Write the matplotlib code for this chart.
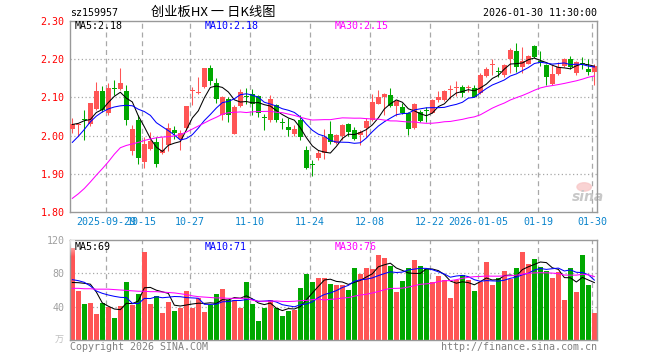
import numpy as np
import matplotlib
matplotlib.use('Agg')
import matplotlib.pyplot as plt
from matplotlib.patches import Ellipse

# ---------------- data ----------------
opens = [2.018, 2.027, 2.042, 2.030, 2.071, 2.117, 2.058, 2.123, 2.121, 2.117,
         1.960, 2.040, 1.930, 1.965, 1.982, 1.953, 1.975, 2.014, 1.992, 2.021,
         2.118, 2.111, 2.128, 2.177, 2.139, 2.054, 2.095, 2.005, 2.077, 2.104,
         2.109, 2.104, 2.047, 2.040, 2.080, 2.033, 2.023, 2.005, 2.040, 1.961,
         1.925, 1.942, 1.954, 2.004, 1.981, 1.998, 2.029, 2.014, 2.001, 2.021,
         2.040, 2.084, 2.102, 2.106, 2.077, 2.074, 2.058, 2.021, 2.062, 2.067,
         2.060, 2.093, 2.093, 2.119, 2.124, 2.128, 2.124, 2.126, 2.111, 2.156,
         2.185, 2.168, 2.159, 2.200, 2.223, 2.179, 2.189, 2.235, 2.195, 2.185,
         2.135, 2.161, 2.182, 2.200, 2.165, 2.189, 2.175, 2.168]
closes = [2.029, 2.031, 2.040, 2.086, 2.117, 2.067, 2.124, 2.121, 2.139, 2.040,
          2.017, 1.940, 1.979, 1.986, 1.925, 1.961, 2.021, 2.007, 2.007, 2.077,
          2.120, 2.114, 2.177, 2.144, 2.095, 2.102, 2.054, 2.074, 2.115, 2.102,
          2.084, 2.058, 2.046, 2.097, 2.042, 2.032, 2.014, 2.017, 1.996, 1.914,
          1.923, 1.954, 1.996, 1.983, 2.001, 2.027, 2.010, 1.992, 2.010, 2.039,
          2.089, 2.102, 2.109, 2.077, 2.091, 2.058, 2.016, 2.082, 2.039, 2.065,
          2.093, 2.102, 2.117, 2.121, 2.126, 2.112, 2.126, 2.102, 2.159, 2.176,
          2.187, 2.166, 2.185, 2.225, 2.181, 2.196, 2.209, 2.207, 2.193, 2.153,
          2.161, 2.181, 2.200, 2.181, 2.193, 2.187, 2.168, 2.182]
highs = [2.045, 2.033, 2.067, 2.086, 2.140, 2.130, 2.137, 2.147, 2.178, 2.132,
         2.027, 2.054, 1.995, 2.009, 1.996, 1.995, 2.032, 2.025, 2.014, 2.077,
         2.128, 2.154, 2.178, 2.185, 2.150, 2.104, 2.102, 2.080, 2.121, 2.124,
         2.121, 2.106, 2.056, 2.106, 2.082, 2.045, 2.045, 2.027, 2.054, 1.972,
         1.935, 1.961, 2.018, 2.039, 2.004, 2.030, 2.032, 2.023, 2.014, 2.045,
         2.109, 2.119, 2.112, 2.126, 2.093, 2.086, 2.062, 2.086, 2.068, 2.075,
         2.095, 2.118, 2.119, 2.132, 2.143, 2.132, 2.132, 2.132, 2.163, 2.179,
         2.200, 2.181, 2.187, 2.229, 2.242, 2.233, 2.211, 2.238, 2.223, 2.189,
         2.185, 2.194, 2.203, 2.209, 2.196, 2.205, 2.200, 2.189]
lows = [2.007, 1.998, 1.989, 2.025, 2.067, 2.062, 2.054, 2.106, 2.119, 2.027,
        1.948, 1.925, 1.916, 1.961, 1.918, 1.951, 1.960, 1.991, 1.961, 2.014,
        2.080, 2.109, 2.126, 2.132, 2.086, 2.040, 2.036, 2.004, 2.074, 2.082,
        2.054, 2.049, 2.014, 2.036, 2.036, 2.016, 1.998, 1.998, 1.988, 1.911,
        1.894, 1.937, 1.939, 1.979, 1.977, 1.988, 1.998, 1.988, 1.975, 1.996,
        2.039, 2.082, 2.054, 2.074, 2.051, 2.056, 2.001, 2.018, 2.036, 2.036,
        2.058, 2.089, 2.091, 2.097, 2.104, 2.102, 2.115, 2.100, 2.109, 2.154,
        2.159, 2.154, 2.154, 2.163, 2.168, 2.165, 2.188, 2.203, 2.183, 2.132,
        2.132, 2.159, 2.179, 2.176, 2.159, 2.174, 2.159, 2.132]
volumes = [110, 58.8, 43.2, 44.8, 31.2, 44.4, 39.2, 26.4, 40.8, 69.6,
           42, 55.2, 105.6, 43.2, 52.8, 32.4, 45.6, 34.8, 38.4, 58.8,
           38.4, 50.4, 33.6, 42, 55.2, 61.2, 48, 48, 38.4, 69.6,
           43.2, 22.8, 38.4, 48, 38.4, 28.8, 34.8, 36, 62.4, 79.2,
           69.6, 74.4, 74.4, 67.2, 66, 66, 60, 86.4, 79.2, 86.4,
           85.2, 102, 98.4, 88.8, 57.6, 70.8, 86.4, 96, 88.8, 85.2,
           69.6, 76.8, 72, 50.4, 72, 78, 72, 58.8, 69.6, 93.6,
           66, 74.4, 82.8, 73.2, 86.4, 105.6, 91.2, 97.2, 87.6, 82.8,
           74.4, 81.6, 48, 86.4, 57.6, 102, 66, 32.4]

# moving-average values before enough in-window history exists
ma5_prefix = [2.029, 2.032, 2.039, 2.042]
ma10_prefix = [1.982, 1.998, 2.016, 2.036, 2.051, 2.062, 2.070, 2.075, 2.078]
ma30_prefix = [1.835, 1.847, 1.861, 1.878, 1.896, 1.913, 1.931, 1.951, 1.968, 1.974,
               1.978, 1.982, 1.987, 1.991, 1.994, 1.996, 1.997, 1.999, 2.003, 2.009,
               2.017, 2.025, 2.033, 2.041, 2.048, 2.056, 2.060, 2.061, 2.062]
vma5_prefix = [69, 68.8, 68, 67]
vma10_prefix = [72.4, 71.2, 69.2, 64.8, 58.8, 56, 54, 52.4, 51.2]
vma30_prefix = [62, 62, 61.5, 61.5, 61, 61, 61, 60.5, 60, 59.5,
                59, 58.5, 58.5, 58, 58, 57.5, 57, 56.5, 55.5, 54.5,
                53, 52, 51.5, 51, 50.5, 50.5, 50, 50, 50]

tick_idx = [6, 12, 20, 30, 40, 50, 60, 68, 78, 87]
tick_labels = ['2025-09-29', '10-15', '10-27', '11-10', '11-24', '12-08',
               '12-22', '2026-01-05', '01-19', '01-30']
price_ticks = [1.80, 1.90, 2.00, 2.10, 2.20, 2.30]
vol_ticks = [40, 80, 120]
price_ma_labels = ['MA5:2.18', 'MA10:2.18', 'MA30:2.15']
vol_ma_labels = ['MA5:69', 'MA10:71', 'MA30:76']


def moving_average(vals, n, prefix):
    v = np.asarray(vals, dtype=float)
    out = list(prefix)
    for i in range(n - 1, len(v)):
        out.append(v[i - n + 1:i + 1].mean())
    return np.array(out)


# ---------------- styling ----------------
MONO = 'DejaVu Sans Mono'
UP = '#FF5555'
DOWN = '#00A800'
GRID = '#A8A8A8'
FRAME = '#999999'
DATE_C = '#0A84CC'
MA_COLORS = ['#000000', '#0000FF', '#FF00FF']

W, H = 660, 360
fig = plt.figure(figsize=(6.6, 3.6), dpi=100)


def fx(x):
    return x / W


def fy(y):
    return 1 - y / H


n = len(closes)
x = np.arange(n)
half = 0.39
xlim = (-half, n - 1 + 0.44)
grid_x = [i - half for i in tick_idx]

ax1 = fig.add_axes([fx(70), fy(211.7), fx(527), (211.7 - 21.3) / H])
ax2 = fig.add_axes([fx(70), fy(340), fx(527), 100 / H])

for ax in (ax1, ax2):
    ax.set_xlim(*xlim)
    for s in ax.spines.values():
        s.set_color(FRAME)
        s.set_linewidth(1.0)
    for gx in grid_x:
        ax.axvline(gx, color=GRID, lw=0.9, ls=(0, (4, 3)), zorder=0)

# ---------------- price panel ----------------
ax1.set_ylim(1.80, 2.30)
for yv in price_ticks[1:-1]:
    ax1.axhline(yv, color=GRID, lw=0.9, ls=(0, (1, 2)), zorder=0)

for i in range(n):
    o, c, h, l = opens[i], closes[i], highs[i], lows[i]
    col = UP if c >= o else DOWN
    ax1.vlines(i, l, h, color=col, lw=0.75, zorder=2)
    body = max(abs(c - o), 0.0028)
    ax1.bar(i, body, bottom=min(o, c), width=2 * half, color=col,
            linewidth=0, zorder=3)

ma5 = moving_average(closes, 5, ma5_prefix)
ma10 = moving_average(closes, 10, ma10_prefix)
ma30 = moving_average(closes, 30, ma30_prefix)
for m, col in zip((ma5, ma10, ma30), MA_COLORS):
    ax1.plot(x, m, color=col, lw=0.75, zorder=4)

ax1.set_yticks(price_ticks)
ax1.set_yticklabels(['%.2f' % t for t in price_ticks], color='#FF0000',
                    fontsize=7.2, family=MONO)
ax1.set_xticks(grid_x)
ax1.set_xticklabels(tick_labels, color=DATE_C, fontsize=7.2, family=MONO)
ax1.tick_params(axis='both', length=0)
ax1.tick_params(axis='y', pad=4)
ax1.tick_params(axis='x', pad=4)

# watermark
ax1.add_patch(Ellipse((85.3, 1.865), 2.4, 0.022, color='#F8C8C8', alpha=0.8, zorder=1))
ax1.text(86.0, 1.838, 'sina', fontsize=10, style='italic', fontweight='bold',
         color='#C8C8C8', ha='center', va='center', zorder=1)

# ---------------- volume panel ----------------
ax2.set_ylim(0, 120)
for yv in vol_ticks[:-1]:
    ax2.axhline(yv, color=GRID, lw=0.9, ls=(0, (1, 2)), zorder=0)
vcols = [UP if closes[i] >= opens[i] else DOWN for i in range(n)]
ax2.bar(x, volumes, width=2 * half, color=vcols, linewidth=0, zorder=2)

vma5 = moving_average(volumes, 5, vma5_prefix)
vma10 = moving_average(volumes, 10, vma10_prefix)
vma30 = moving_average(volumes, 30, vma30_prefix)
for m, col in zip((vma5, vma10, vma30), MA_COLORS):
    ax2.plot(x, m, color=col, lw=0.75, zorder=4)

# fade at the top-left of the volume panel
grad = np.ones((40, 2, 4))
grad[:, :, 3] = np.linspace(0.0, 0.8, 40)[:, None]
ax2.imshow(grad, extent=(-half, half, 100, 120), origin='lower', aspect='auto',
           zorder=3, interpolation='bilinear')
ax2.set_xlim(*xlim)
ax2.set_ylim(0, 120)

ax2.set_yticks(vol_ticks)
ax2.set_yticklabels([str(t) for t in vol_ticks], color='#A0A0A0',
                    fontsize=7.2, family=MONO)
ax2.set_xticks([])
ax2.tick_params(axis='both', length=0)
ax2.tick_params(axis='y', pad=4)

# ---------------- texts ----------------
fig.text(fx(70), fy(13), 'sz159957', fontsize=7.2, family=MONO, va='center', ha='left')
fig.text(fx(213), fy(12), '创业板HX 一 日K线图', fontsize=9.5,
         family=['Noto Sans CJK SC', 'DejaVu Sans'], va='center', ha='center')
fig.text(fx(597), fy(13), '2026-01-30 11:30:00', fontsize=7.2, family=MONO,
         va='center', ha='right')

label_x = [75, 205, 335]
for lx, txt, col in zip(label_x, price_ma_labels, MA_COLORS):
    fig.text(fx(lx), fy(26), txt, fontsize=7.2, family=MONO, color=col,
             va='center', ha='left')
for lx, txt, col in zip(label_x, vol_ma_labels, MA_COLORS):
    fig.text(fx(lx), fy(246.5), txt, fontsize=7.2, family=MONO, color=col,
             va='center', ha='left')

fig.text(fx(64), fy(340), '万', fontsize=6.5, family=['Noto Sans CJK SC', 'DejaVu Sans'],
         color='#C0C0C0', va='center', ha='right')
fig.text(fx(70), fy(347), 'Copyright 2026 SINA.COM', fontsize=7.2, family=MONO,
         color='#808080', va='center', ha='left')
fig.text(fx(597), fy(347), 'http://finance.sina.com.cn', fontsize=7.2, family=MONO,
         color='#808080', va='center', ha='right')

fig.savefig('out.png', dpi=100)
